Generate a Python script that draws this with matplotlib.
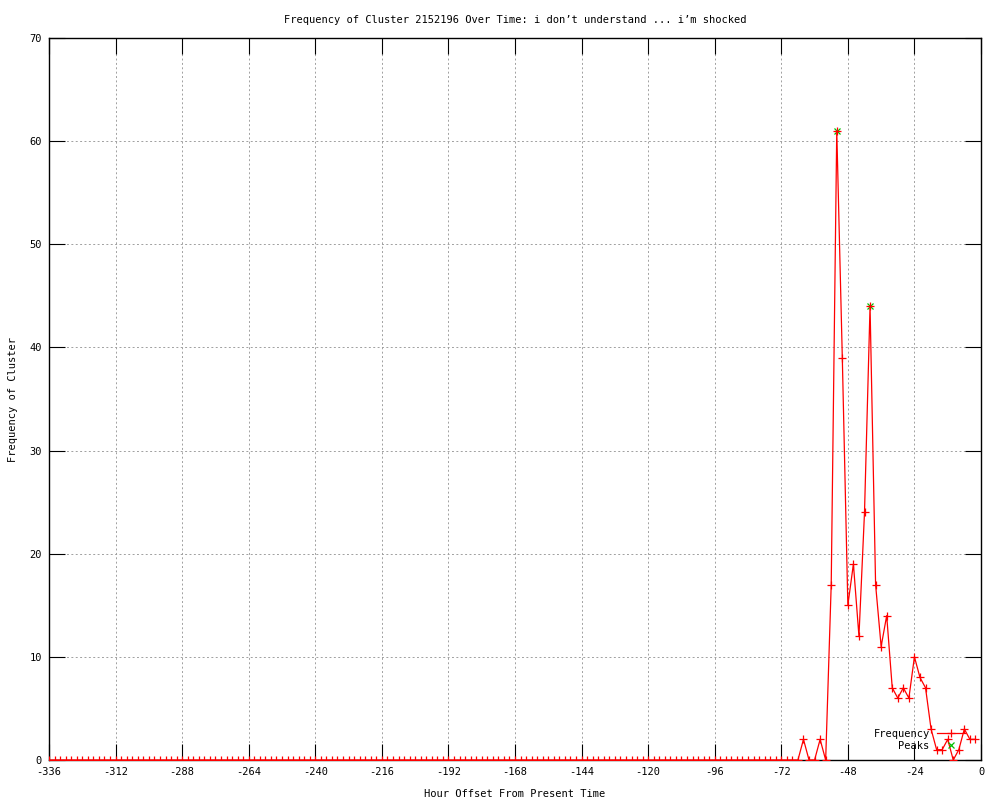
import matplotlib
matplotlib.use("Agg")
import matplotlib.pyplot as plt

plt.rcParams['axes.unicode_minus'] = False
plt.rcParams['font.family'] = ['DejaVu Sans Mono']

title = "Frequency of Cluster 2152196 Over Time: i don\u2019t understand ... i\u2019m shocked"
xlabel = "Hour Offset From Present Time"
ylabel = "Frequency of Cluster"

hours = list(range(-336, 0, 2))
frequency = [0] * 136 + [
    2, 0, 0, 2, 0, 17, 61, 39, 15, 19, 12, 24, 44, 17, 11, 14,
    7, 6, 7, 6, 10, 8, 7, 3, 1, 1, 2, 0, 1, 3, 2, 2,
]

peak_hours = [-52, -40]
peak_values = [61, 44]

xticks = list(range(-336, 1, 24))
yticks = list(range(0, 71, 10))

fig = plt.figure(figsize=(10, 8), dpi=100)
ax = fig.add_axes([0.049, 0.05, 0.932, 0.9025])

ax.plot(hours, frequency, color='#ff0000', lw=0.9, marker='+', ms=6,
        mew=0.9, label='Frequency', zorder=3)
ax.plot(peak_hours, peak_values, color='#00c000', lw=0, marker='x', ms=5,
        mew=0.9, label='Peaks', zorder=2)

ax.set_xlim(-336, 0)
ax.set_ylim(0, 70)
ax.set_xticks(xticks)
ax.set_yticks(yticks)
ax.tick_params(direction='in', length=11.5, width=0.8, top=True, right=True,
               labelsize=7.5, pad=5, colors='black')
ax.tick_params(axis='x', pad=5)
ax.grid(True, color='#a0a0a0', linestyle=(0, (2, 2.5)), lw=0.7)
for s in ax.spines.values():
    s.set_linewidth(1.0)

ax.set_title(title, fontsize=7.5, pad=11)
ax.set_xlabel(xlabel, fontsize=7.5, labelpad=9)
ax.set_ylabel(ylabel, fontsize=7.5, labelpad=8)

ax.legend(loc='lower right', bbox_to_anchor=(0.983, 0.013), frameon=False,
          markerfirst=False, fontsize=7.5, handlelength=2.7,
          handletextpad=0.7, labelspacing=0.2, borderpad=0, borderaxespad=0)

fig.savefig('out.png', dpi=100)
